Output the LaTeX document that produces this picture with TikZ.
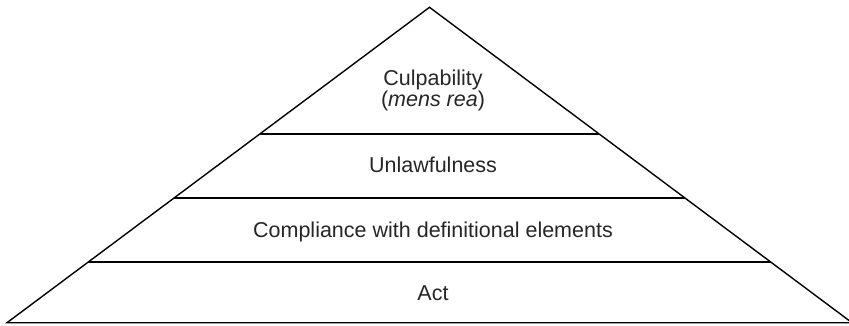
\documentclass[tikz,border=0pt]{standalone}
\usepackage{fontspec}
\setmainfont{Liberation Sans}
\usetikzlibrary{calc}
\begin{document}
\begin{tikzpicture}[x=1pt,y=-1pt,line width=1.4pt,inner sep=0pt,
  tier/.style={anchor=base,align=center,text=black!85,font=\fontsize{21.5}{20}\selectfont}]
\useasboundingbox (0,0) rectangle (849,326);
\coordinate (Top) at (429.5,7.3);
\coordinate (BL) at (7,322.7);
\coordinate (BR) at (852,322.7);
\draw [line join=miter] (Top) -- (BL) -- (BR) -- cycle;
\coordinate (L1) at ($ (Top)!0.4017!(BL) $);
\coordinate (R1) at ($ (Top)!0.4017!(BR) $);
\coordinate (L2) at ($ (Top)!0.6046!(BL) $);
\coordinate (R2) at ($ (Top)!0.6046!(BR) $);
\coordinate (L3) at ($ (Top)!0.8076!(BL) $);
\coordinate (R3) at ($ (Top)!0.8076!(BR) $);
\draw (L1) -- (R1);
\draw (L2) -- (R2);
\draw (L3) -- (R3);
\node [tier] (Culp) at (433,107)  {Culpability\\(\textit{mens rea})};
\node [tier] (Unlaw) at (433,172) {Unlawfulness};
\node [tier] (Comp) at (433,237) {Compliance with definitional elements};
\node [tier] (Act) at (433,300) {Act};
\end{tikzpicture}
\end{document}
